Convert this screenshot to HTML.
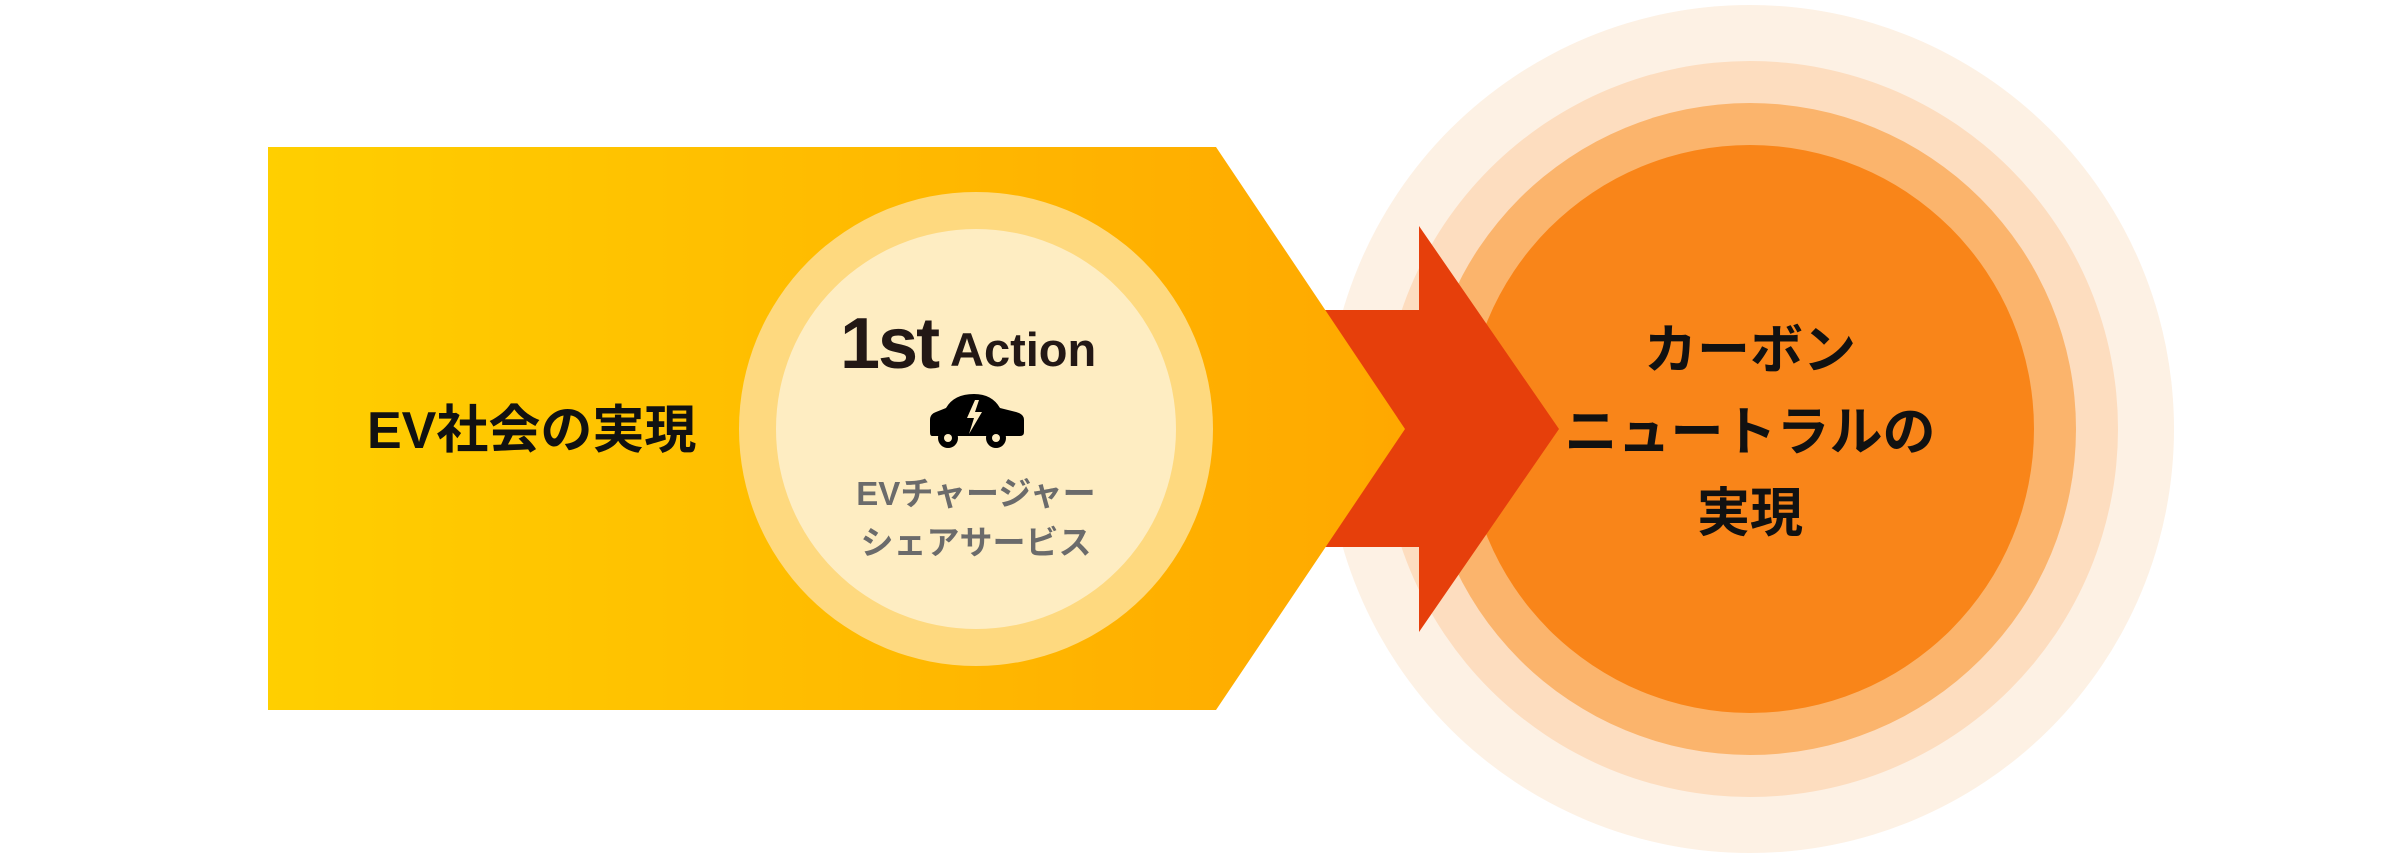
<!DOCTYPE html>
<html><head><meta charset="utf-8"><style>
html,body{margin:0;padding:0;background:#fff;}
svg{display:block}
text{font-family:"Liberation Sans","Noto Sans CJK JP",sans-serif;font-weight:bold;}
</style></head><body>
<svg width="2400" height="860" viewBox="0 0 2400 860" xmlns="http://www.w3.org/2000/svg">
<defs>
<linearGradient id="g" x1="0" x2="1" y1="0" y2="0">
<stop offset="0" stop-color="#FFCF00"/><stop offset="1" stop-color="#FFA800"/>
</linearGradient>
</defs>
<circle cx="1750" cy="429" r="424" fill="#FDF1E4"/>
<circle cx="1750" cy="429" r="368" fill="#FDDDBF"/>
<circle cx="1750" cy="429" r="326" fill="#FBB46C"/>
<circle cx="1750" cy="429" r="284" fill="#F98519"/>
<polygon points="1250,310 1419,310 1419,226 1559,429 1419,632 1419,547 1250,547" fill="#E63F0B"/>
<polygon points="268,147 1216,147 1405,429 1216,710 268,710" fill="url(#g)"/>
<circle cx="976" cy="429" r="237" fill="#FED97F"/>
<circle cx="976" cy="429" r="200" fill="#FEEDC2"/>
<text x="367" y="448" font-size="52" fill="#111">EV社会の実現</text>
<text x="840" y="368" font-size="72" fill="#231815" letter-spacing="-2">1st</text>
<text x="950" y="366" font-size="47" fill="#231815">Action</text>
<g fill="#000">
<path d="M930,420 q0,-6 6,-8 l10,-4 q8,-14 28,-14 q18,0 26,14 l16,4 q8,2 8,8 l0,12 q0,4 -4,4 l-88,0 q-2,0 -2,-4 z"/>
<circle cx="948" cy="438" r="10"/><circle cx="996" cy="438" r="10"/>
</g>
<circle cx="948" cy="438" r="4" fill="#FEEDC2"/><circle cx="996" cy="438" r="4" fill="#FEEDC2"/>
<polygon points="975,400 967,418 974,418 969,434 982,412 975,412 979,400" fill="#FEEDC2"/>
<text x="976" y="505" font-size="33" fill="#6B6B6B" text-anchor="middle">EVチャージャー</text>
<text x="976" y="554" font-size="33" fill="#6B6B6B" text-anchor="middle">シェアサービス</text>
<text x="1750" y="368" font-size="53" fill="#111" text-anchor="middle">カーボン</text>
<text x="1750" y="450" font-size="53" fill="#111" text-anchor="middle">ニュートラルの</text>
<text x="1750" y="531" font-size="53" fill="#111" text-anchor="middle">実現</text>
</svg>
</body></html>
